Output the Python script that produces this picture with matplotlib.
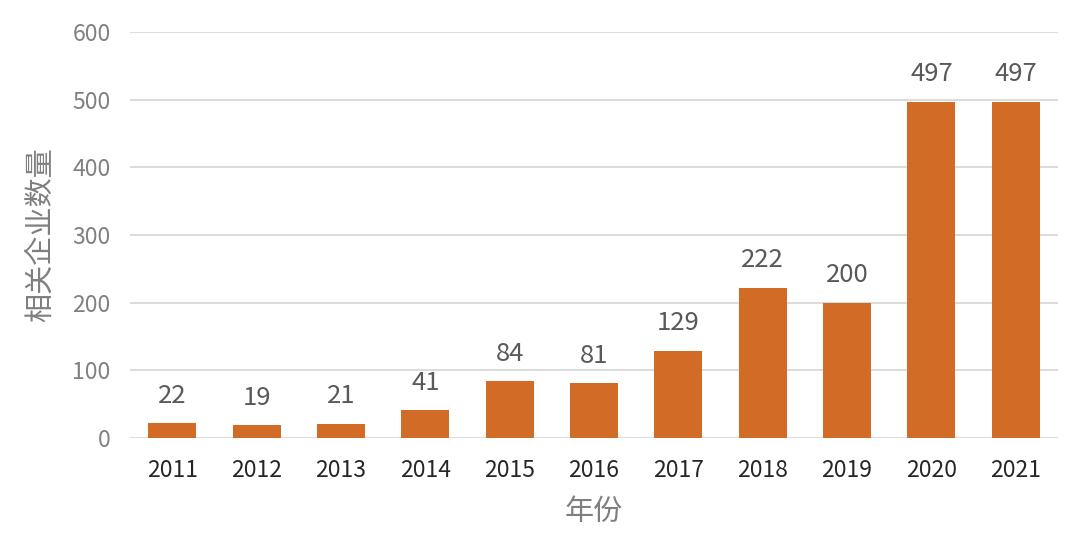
import matplotlib
matplotlib.use("Agg")
import matplotlib.pyplot as plt

years = ["2011", "2012", "2013", "2014", "2015", "2016", "2017", "2018", "2019", "2020", "2021"]
counts = [22, 19, 21, 41, 84, 81, 129, 222, 200, 497, 497]
yticks = [0, 100, 200, 300, 400, 500, 600]

plt.rcParams["font.family"] = ["Noto Sans CJK SC", "DejaVu Sans"]

fig = plt.figure(figsize=(10.8, 5.33), dpi=100)
ax = fig.add_axes([0.1204, 0.178, 0.8592, 0.762])

x = list(range(len(years)))
ax.bar(x, counts, width=0.57, color="#D26B26", zorder=3)
for xi, v in zip(x, counts):
    ax.annotate(str(v), (xi, v), xytext=(0, 10.5), textcoords="offset points",
                ha="center", va="bottom", fontsize=18.5, color="#595959")

ax.set_xlim(-0.5, len(years) - 0.5)
ax.set_ylim(0, 600)
ax.set_yticks(yticks)
ax.set_xticks(x)
ax.set_xticklabels(years)
ax.tick_params(axis="y", length=0, labelsize=16.5, labelcolor="#808080", pad=14)
ax.tick_params(axis="x", length=0, labelsize=16.5, labelcolor="#262626", pad=15)
ax.grid(axis="y", color="#D9D9D9", lw=1.3, zorder=0)
for s in ax.spines.values():
    s.set_visible(False)

ax.set_xlabel("年份", fontsize=21, color="#7f7f7f", labelpad=11)
ax.set_ylabel("相关企业数量", fontsize=21, color="#7f7f7f", labelpad=12)

fig.savefig("out.png", dpi=100)
